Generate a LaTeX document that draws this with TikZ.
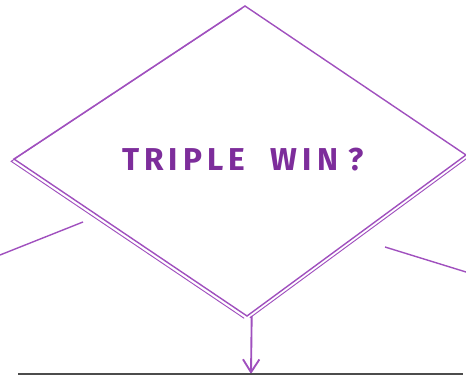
\documentclass[tikz,border=0pt]{standalone}
\usepackage{fontspec}
\setsansfont{Fira Sans}
\usetikzlibrary{arrows.meta}
\definecolor{sketch}{RGB}{160,80,190}
\definecolor{ink}{RGB}{125,45,155}

\begin{document}
\begin{tikzpicture}[x=0.03cm, y=-0.03cm, line width=1.2pt, >={Straight Barb[length=11pt,width=14pt]}]
    \useasboundingbox (0,0) rectangle (466,376);
    % Ecken der Raute
    \coordinate (top) at (245,6);
    \coordinate (left) at (14,159);
    \coordinate (right) at (466,155);
    \coordinate (bottom) at (247,316);
    \coordinate (floor) at (251,374);

    % Raute, doppelt gezogen
    \draw[sketch] (top) -- (right) -- (bottom) -- (left) -- cycle;
    \draw[sketch, line width=0.8pt, transform canvas={xshift=-2.4pt, yshift=-2pt}] (top) -- (left) -- (bottom);
    \draw[sketch, line width=0.8pt, transform canvas={xshift=2.4pt, yshift=-1.6pt}] (bottom) -- (right);

    \node[ink, font=\sffamily\bfseries\fontsize{27}{27}\selectfont\addfontfeature{LetterSpace=16}] (label) at (243,160) {TRIPLE\hspace{22pt}WIN\hspace{9pt}?};

    % Abzweige
    \coordinate (l1) at (0,255);
    \coordinate (l2) at (83,222);
    \coordinate (r1) at (385,247);
    \coordinate (r2) at (466,272);
    \draw[sketch] (l1) -- (l2);
    \draw[sketch] (r1) -- (r2);

    % Pfeil nach unten
    \draw[sketch, ->, line width=1.6pt] ([xshift=4]bottom) -- (floor);

    \coordinate (fl) at (18,374);
    \coordinate (fr) at (463,374);
    \draw[black!70, line width=1.3pt] (fl) -- (fr);
\end{tikzpicture}
\end{document}
